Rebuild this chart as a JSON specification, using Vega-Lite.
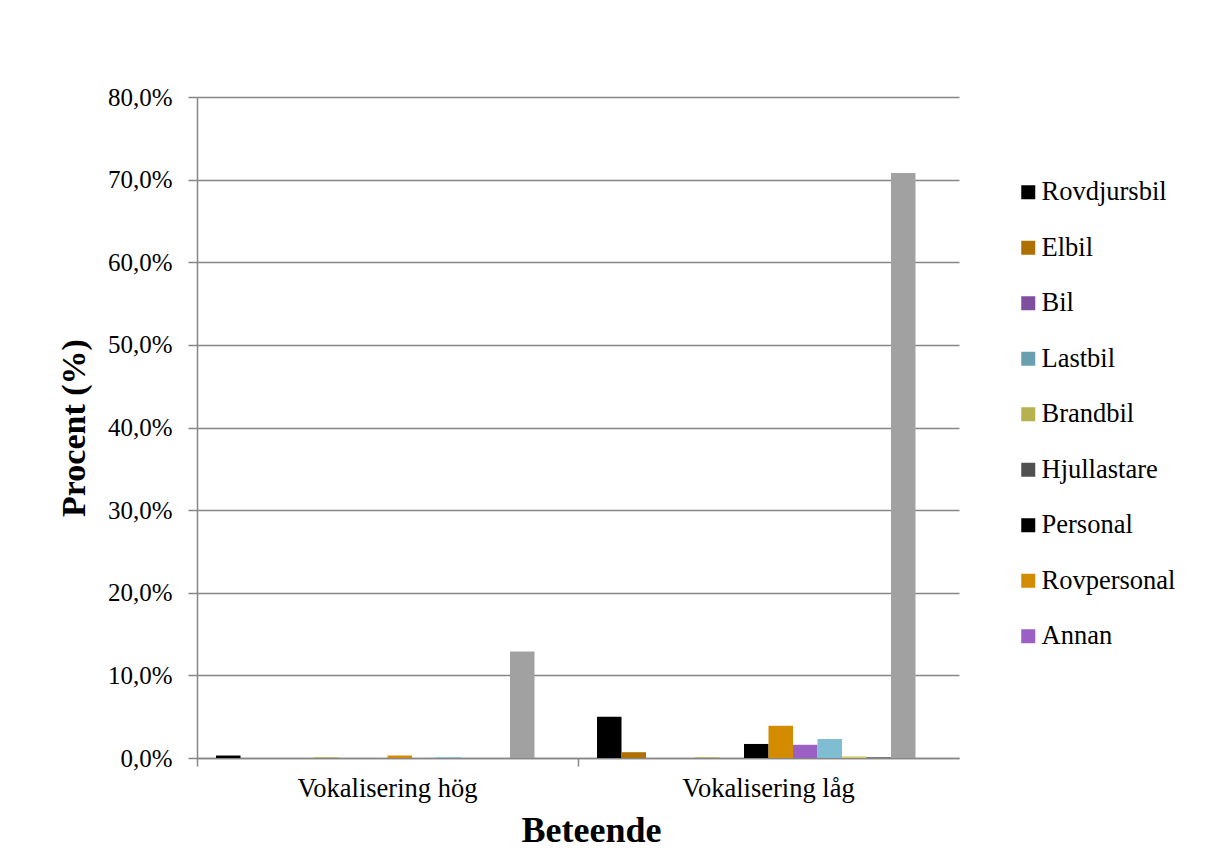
{
  "$schema": "https://vega.github.io/schema/vega-lite/v6.json",
  "width": 762,
  "height": 661,
  "autosize": "none",
  "padding": {"left": 197, "top": 97, "right": 246, "bottom": 94},
  "background": "white",
  "config": {
    "font": "Liberation Serif",
    "view": {"stroke": null},
    "axis": {"labelFont": "Liberation Serif", "titleFont": "Liberation Serif", "labelColor": "black", "titleColor": "black"}
  },
  "data": {
    "values": [
      {"beteende": "Vokalisering hög", "kategori": "Rovdjursbil", "procent": 0.3},
      {"beteende": "Vokalisering hög", "kategori": "Elbil", "procent": 0},
      {"beteende": "Vokalisering hög", "kategori": "Bil", "procent": 0},
      {"beteende": "Vokalisering hög", "kategori": "Lastbil", "procent": 0},
      {"beteende": "Vokalisering hög", "kategori": "Brandbil", "procent": 0.1},
      {"beteende": "Vokalisering hög", "kategori": "Hjullastare", "procent": 0},
      {"beteende": "Vokalisering hög", "kategori": "Personal", "procent": 0},
      {"beteende": "Vokalisering hög", "kategori": "Rovpersonal", "procent": 0.3},
      {"beteende": "Vokalisering hög", "kategori": "Annan", "procent": 0},
      {"beteende": "Vokalisering hög", "kategori": "Traktor", "procent": 0.1},
      {"beteende": "Vokalisering hög", "kategori": "Flygplan", "procent": 0},
      {"beteende": "Vokalisering hög", "kategori": "Okänd", "procent": 0},
      {"beteende": "Vokalisering hög", "kategori": "Ingen", "procent": 12.9},
      {"beteende": "Vokalisering hög", "kategori": "Övrigt", "procent": 0},
      {"beteende": "Vokalisering låg", "kategori": "Rovdjursbil", "procent": 5.0},
      {"beteende": "Vokalisering låg", "kategori": "Elbil", "procent": 0.7},
      {"beteende": "Vokalisering låg", "kategori": "Bil", "procent": 0},
      {"beteende": "Vokalisering låg", "kategori": "Lastbil", "procent": 0},
      {"beteende": "Vokalisering låg", "kategori": "Brandbil", "procent": 0.1},
      {"beteende": "Vokalisering låg", "kategori": "Hjullastare", "procent": 0},
      {"beteende": "Vokalisering låg", "kategori": "Personal", "procent": 1.7},
      {"beteende": "Vokalisering låg", "kategori": "Rovpersonal", "procent": 3.9},
      {"beteende": "Vokalisering låg", "kategori": "Annan", "procent": 1.6},
      {"beteende": "Vokalisering låg", "kategori": "Traktor", "procent": 2.3},
      {"beteende": "Vokalisering låg", "kategori": "Flygplan", "procent": 0.2},
      {"beteende": "Vokalisering låg", "kategori": "Okänd", "procent": 0.1},
      {"beteende": "Vokalisering låg", "kategori": "Ingen", "procent": 70.8},
      {"beteende": "Vokalisering låg", "kategori": "Övrigt", "procent": 0}
    ]
  },
  "mark": {"type": "bar"},
  "encoding": {
    "x": {
      "field": "beteende",
      "type": "nominal",
      "scale": {"paddingInner": 0, "paddingOuter": 0},
      "axis": {
        "title": "Beteende",
        "titleFontSize": 36,
        "titleFontWeight": "bold",
        "titlePadding": 12,
        "titleX": 394,
        "labelAngle": 0,
        "labelFontSize": 26.5,
        "labelPadding": 9,
        "bandPosition": 0,
        "tickSize": 8,
        "tickColor": "#868686",
        "tickWidth": 1.5,
        "domainColor": "#868686",
        "domainWidth": 1.5,
        "grid": false
      }
    },
    "xOffset": {
      "field": "kategori",
      "type": "nominal",
      "sort": ["Rovdjursbil", "Elbil", "Bil", "Lastbil", "Brandbil", "Hjullastare", "Personal", "Rovpersonal", "Annan", "Traktor", "Flygplan", "Okänd", "Ingen", "Övrigt"],
      "scale": {"paddingInner": 0, "paddingOuter": 0.776}
    },
    "y": {
      "field": "procent",
      "type": "quantitative",
      "scale": {"domain": [0, 80], "nice": false},
      "axis": {
        "title": "Procent (%)",
        "titleFontSize": 34,
        "titleFontWeight": "bold",
        "titlePadding": 16,
        "values": [0, 10, 20, 30, 40, 50, 60, 70, 80],
        "labelExpr": "replace(format(datum.value, '.1f'), '.', ',') + '%'",
        "labelFontSize": 25,
        "labelPadding": 16,
        "tickSize": 9,
        "tickColor": "#868686",
        "tickWidth": 1.5,
        "domainColor": "#868686",
        "domainWidth": 1.5,
        "grid": true,
        "gridColor": "#868686",
        "gridWidth": 1.5
      }
    },
    "color": {
      "field": "kategori",
      "type": "nominal",
      "scale": {
        "domain": ["Rovdjursbil", "Elbil", "Bil", "Lastbil", "Brandbil", "Hjullastare", "Personal", "Rovpersonal", "Annan", "Traktor", "Flygplan", "Okänd", "Ingen", "Övrigt"],
        "range": ["#000000", "#ae7000", "#7f4f9f", "#6a9fb0", "#b5b24f", "#505050", "#000000", "#d38c00", "#9b60c3", "#7fbdd3", "#d4cd6c", "#6b6b6b", "#a1a1a1", "#000000"]
      },
      "legend": {
        "title": null,
        "orient": "none",
        "legendX": 818,
        "legendY": 82,
        "values": ["Rovdjursbil", "Elbil", "Bil", "Lastbil", "Brandbil", "Hjullastare", "Personal", "Rovpersonal", "Annan"],
        "symbolType": "square",
        "symbolSize": 196,
        "symbolStrokeWidth": 0,
        "labelFont": "Liberation Serif",
        "labelFontSize": 26.5,
        "labelColor": "black",
        "labelOffset": 0,
        "rowPadding": 28.5,
        "labelLimit": 300
      }
    }
  }
}
